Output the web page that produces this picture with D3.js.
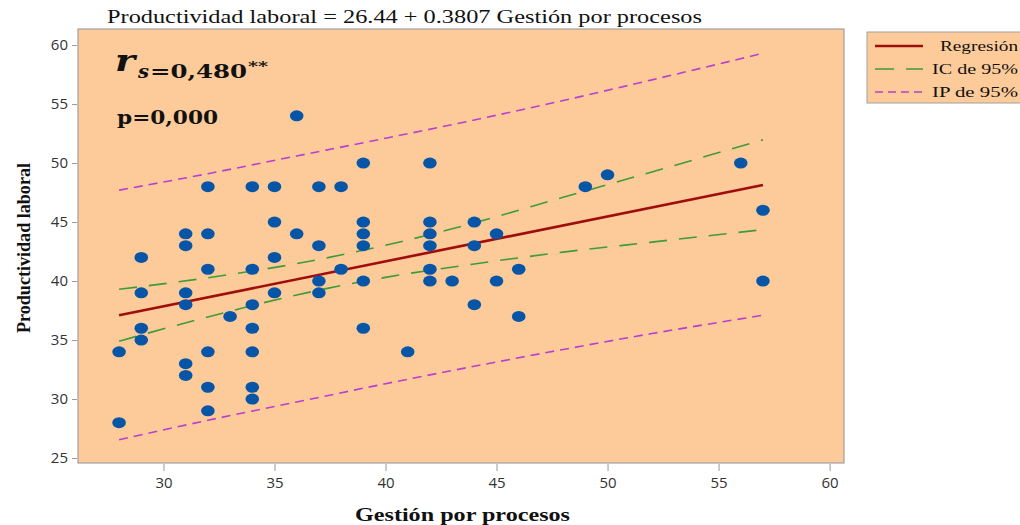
<!DOCTYPE html>
<html>
<head>
<meta charset="utf-8">
<script src="https://cdn.jsdelivr.net/npm/d3@7"></script>
<style>
  body { margin: 0; background: #fff; }
  .tick text { font-family: "Open Sans", sans-serif; font-size: 15px; fill: #333; }
  .tick line { stroke: #999; }
</style>
</head>
<body>
<svg width="1020" height="525"></svg>
<script>
// valores
var gestion = [28,28, 29,29,29,29, 31,31,31,31,31,31, 32,32,32,32,32,32, 33,
  34,34,34,34,34,34,34, 35,35,35,35, 36,36, 37,37,37,37, 38,38,
  39,39,39,39,39,39, 41, 42,42,42,42,42,42, 43, 44,44,44, 45,45, 46,46,
  49, 50, 56, 57,57];
var productividad = [34,28, 42,39,36,35, 44,43,39,38,33,32, 48,44,41,34,31,29, 37,
  48,41,38,36,34,31,30, 48,45,42,39, 54,44, 48,43,40,39, 48,41,
  50,45,44,43,40,36, 34, 50,45,44,43,41,40, 40, 45,43,38, 44,40, 41,37,
  48, 49, 50, 46,40];

var regX = [28, 57];
var regY = [37.10, 48.14];

var bandX   = [28, 32, 36, 40, 44, 48, 52, 57];
var icUpper = [39.30, 40.28, 41.48, 43.03, 44.93, 47.10, 49.25, 51.97];
var icLower = [34.90, 36.96, 38.82, 40.31, 41.45, 42.45, 43.30, 44.36];
var ipUpper = [47.70, 49.10, 50.60, 52.10, 53.65, 55.30, 57.05, 59.30];
var ipLower = [26.55, 28.20, 29.75, 31.30, 32.78, 34.20, 35.55, 37.10];

var xTicks = [30, 35, 40, 45, 50, 55, 60];
var yTicks = [25, 30, 35, 40, 45, 50, 55, 60];

var legendItems = ["Regresión", "IC de 95%", "IP de 95%"];
var colors = { reg: "#a00d0d", ic: "#3f9b35", ip: "#b83fd0", dot: "#0755a6", fill: "#fdcb99" };

var svg = d3.select('svg');

var plotLeft = 78, plotRight = 844, plotTop = 29, plotBottom = 463;

var x = d3.scaleLinear().domain([26.15, 60.65]).range([plotLeft, plotRight]);
var y = d3.scaleLinear().domain([24.58, 61.36]).range([plotBottom, plotTop]);

svg.append('rect')
    .attr('x', plotLeft).attr('y', plotTop)
    .attr('width', plotRight - plotLeft).attr('height', plotBottom - plotTop)
    .attr('fill', colors.fill)
    .attr('stroke', '#a0a0a0')
    .attr('stroke-width', 1.2);

// ejes
var gx = svg.append('g')
    .attr('transform', 'translate(0,' + (plotBottom + 1) + ')')
    .call(d3.axisBottom(x).tickValues(xTicks).tickSize(7).tickPadding(6));
gx.select('.domain').remove();

var gy = svg.append('g')
    .attr('transform', 'translate(' + (plotLeft - 1) + ',0)')
    .call(d3.axisLeft(y).tickValues(yTicks).tickSize(5).tickPadding(4));
gy.select('.domain').remove();

// bandas
var line = d3.line().curve(d3.curveMonotoneX);

function band(vals, color, dash, w) {
  svg.append('path')
    .attr('d', line(bandX.map(function(v, i) { return [x(v), y(vals[i])]; })))
    .attr('fill', 'none')
    .attr('stroke', color)
    .attr('stroke-width', w)
    .attr('stroke-dasharray', dash);
}
band(ipUpper, colors.ip, '9,6', 1.6);
band(ipLower, colors.ip, '9,6', 1.6);
band(icUpper, colors.ic, '18,12', 1.6);
band(icLower, colors.ic, '18,12', 1.6);

svg.append('path')
    .attr('d', line(regX.map(function(v, i) { return [x(v), y(regY[i])]; })))
    .attr('fill', 'none')
    .attr('stroke', colors.reg)
    .attr('stroke-width', 2.6);

// puntos
svg.selectAll('ellipse.pt')
    .data(gestion)
    .enter()
    .append('ellipse')
    .attr('class', 'pt')
    .attr('cx', function(d) { return x(d); })
    .attr('cy', function(d, i) { return y(productividad[i]); })
    .attr('rx', 6.8)
    .attr('ry', 5.5)
    .attr('fill', colors.dot);

// titulo y etiquetas
svg.append('text')
    .attr('x', 107).attr('y', 23)
    .attr('textLength', 595).attr('lengthAdjust', 'spacingAndGlyphs')
    .style('font-family', '"Liberation Serif", serif')
    .style('font-size', '18px')
    .attr('fill', '#111')
    .text('Productividad laboral = 26.44 + 0.3807 Gestión por procesos');

svg.append('text')
    .attr('transform', 'translate(30,333) rotate(-90)')
    .attr('textLength', 170).attr('lengthAdjust', 'spacingAndGlyphs')
    .style('font-family', '"Liberation Serif", serif')
    .style('font-size', '18px')
    .style('font-weight', 'bold')
    .attr('fill', '#111')
    .text('Productividad laboral');

svg.append('text')
    .attr('x', 355).attr('y', 521)
    .attr('textLength', 215).attr('lengthAdjust', 'spacingAndGlyphs')
    .style('font-family', '"Liberation Serif", serif')
    .style('font-size', '18px')
    .style('font-weight', 'bold')
    .attr('fill', '#111')
    .text('Gestión por procesos');

// anotacion
var ann = svg.append('g')
    .style('font-family', '"DejaVu Serif", serif')
    .style('font-weight', 'bold')
    .attr('fill', '#111');
ann.append('text')
    .attr('x', 115).attr('y', 71)
    .attr('textLength', 20).attr('lengthAdjust', 'spacingAndGlyphs')
    .style('font-size', '30px').style('font-style', 'italic')
    .text('r');
ann.append('text')
    .attr('x', 138).attr('y', 78)
    .attr('textLength', 11).attr('lengthAdjust', 'spacingAndGlyphs')
    .style('font-size', '19px').style('font-style', 'italic')
    .text('s');
ann.append('text')
    .attr('x', 150).attr('y', 78)
    .attr('textLength', 97).attr('lengthAdjust', 'spacingAndGlyphs')
    .style('font-size', '19px')
    .text('=0,480');
ann.append('text')
    .attr('x', 248).attr('y', 71)
    .attr('textLength', 20).attr('lengthAdjust', 'spacingAndGlyphs')
    .style('font-size', '13px')
    .text('**');
ann.append('text')
    .attr('x', 117).attr('y', 124)
    .attr('textLength', 101).attr('lengthAdjust', 'spacingAndGlyphs')
    .style('font-size', '19px')
    .text('p=0,000');

// leyenda
svg.append('rect')
    .attr('x', 867).attr('y', 32)
    .attr('width', 170).attr('height', 71)
    .attr('fill', colors.fill)
    .attr('stroke', '#a0a0a0');

var legStyles = [
  { c: colors.reg, d: null, w: 2.6 },
  { c: colors.ic, d: '19,12', w: 1.6 },
  { c: colors.ip, d: '8,5', w: 1.6 }
];
var legLens = [78, 86, 86];

legendItems.forEach(function(t, i) {
  var ly = 46 + i * 23;
  svg.append('line')
    .attr('x1', 875).attr('x2', 923)
    .attr('y1', ly).attr('y2', ly)
    .attr('stroke', legStyles[i].c)
    .attr('stroke-width', legStyles[i].w)
    .attr('stroke-dasharray', legStyles[i].d);
  svg.append('text')
    .attr('x', 1018 - legLens[i]).attr('y', ly + 5)
    .attr('textLength', legLens[i]).attr('lengthAdjust', 'spacingAndGlyphs')
    .style('font-family', '"Liberation Serif", serif')
    .style('font-size', '14px')
    .attr('fill', '#111')
    .text(t);
});
</script>
</body>
</html>
